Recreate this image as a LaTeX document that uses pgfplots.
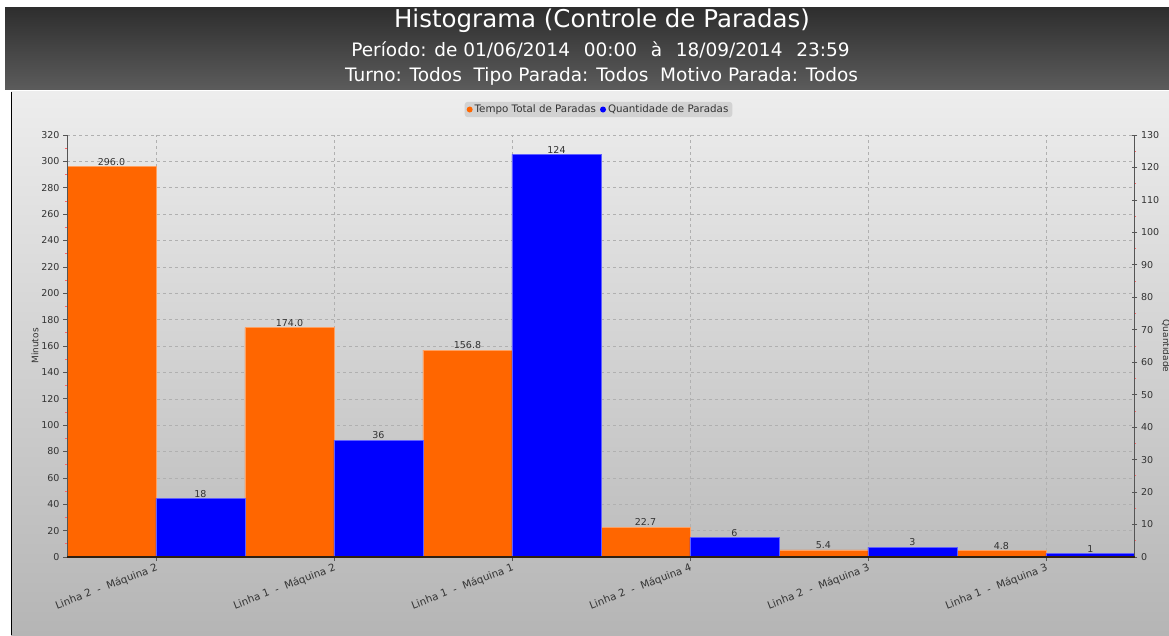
\documentclass[border=0pt]{standalone}
\usepackage{pgfplots}
\pgfplotsset{compat=1.18}
\usepackage{fontspec}
\setmainfont{DejaVu Sans}
\definecolor{barorange}{HTML}{FF6600}
\definecolor{barblue}{HTML}{0000FF}
\definecolor{tickgray}{HTML}{333333}
\definecolor{axisgray}{HTML}{555555}
\definecolor{gridgray}{HTML}{B0B0B0}
\definecolor{legendgray}{HTML}{D2D2D2}
\definecolor{orangeedge}{HTML}{FFA060}
\definecolor{blueedge}{HTML}{6060FF}
\pgfplotsset{sqlegend/.style={legend image code/.code={\fill[##1,draw=none] (0pt,-3pt) rectangle (6pt,3pt);}}}

\pgfplotstableread{
x y
0 296.0
1 174.0
2 156.8
3 22.7
4 5.4
5 4.8
}\tempo
\pgfplotstableread{
x y
0 18
1 36
2 124
3 6
4 3
5 1
}\quant

\begin{document}
\begin{tikzpicture}[x=1pt,y=1pt]
\fill[white] (0,0) rectangle (1169,635);
\shade[top color=black!82, bottom color=black!64] (5,627) rectangle (1169,545);
\shade[top color=black!7, bottom color=black!29] (11,543) rectangle (1169,0);
\draw[black, line width=1pt] (11.5,543) -- (11.5,0);
\node[text=white, anchor=base, font=\fontsize{24.5}{28}\selectfont] at (602,607) {Histograma (Controle de Paradas)};
\node[text=white, anchor=base, font=\fontsize{18.5}{21}\selectfont] at (600.5,578) {Período: de 01/06/2014\ \ \hspace{2pt}00:00\ \ \hspace{2pt}à\ \ \hspace{2pt}18/09/2014\ \ \hspace{2pt}23:59};
\node[text=white, anchor=base, font=\fontsize{18.5}{21}\selectfont] at (601.5,553.5) {Turno: Todos\ \ Tipo Parada: Todos\ \ Motivo Parada: Todos};

\begin{axis}[
  at={(67pt,78pt)}, anchor=south west, scale only axis,
  width=1068pt, height=422pt,
  xmin=-0.5, xmax=5.5, ymin=0, ymax=320,
  axis y line*=left, axis x line*=bottom,
  axis line style={-, axisgray, line width=1pt},
  xtick={0,...,5},
  xticklabels={Linha 2\ \ -\ \ Máquina 2, Linha 1\ \ -\ \ Máquina 2, Linha 1\ \ -\ \ Máquina 1, Linha 2\ \ -\ \ Máquina 4, Linha 2\ \ -\ \ Máquina 3, Linha 1\ \ -\ \ Máquina 3},
  x tick label style={rotate=21, anchor=north east, font=\fontsize{10.3}{12}\selectfont, text=tickgray, inner sep=1pt},
  ytick={0,20,...,320},
  minor y tick num=1,
  tick align=outside,
  major tick length=4pt, minor tick length=2pt,
  major tick style={axisgray, line width=0.7pt},
  minor tick style={red!60, line width=0.7pt},
  y tick label style={font=\fontsize{9.5}{11}\selectfont, text=tickgray},
  /pgf/number format/assume math mode=true,
  grid=major, major grid style={dashed, gridgray, line width=0.5pt},
  ylabel={Minutos},
  ylabel style={font=\fontsize{9}{10}\selectfont, text=tickgray},
  ylabel shift=-4pt,
  legend style={at={(0.4977,1.0604)}, anchor=center, draw=none, fill=legendgray,
    rounded corners=3pt, font=\fontsize{10.3}{12}\selectfont, text=black!80,
    inner xsep=2pt, inner ysep=1pt,
    /tikz/every even column/.append style={column sep=2pt}},
  legend columns=2,
  ybar, bar width=0.5, bar shift=-0.25,
  nodes near coords={\pgfmathprintnumber[fixed,fixed zerofill,precision=1,assume math mode=true]{\pgfplotspointmeta}},
  nodes near coords style={font=\fontsize{9.5}{11}\selectfont, text=tickgray, inner sep=1pt},
]
\addplot[fill=barorange, draw=orangeedge, line width=0.7pt, sqlegend] table[x=x,y=y] {\tempo};
\addlegendentry{Tempo Total de Paradas}
\addlegendimage{fill=barblue, sqlegend}
\addlegendentry{Quantidade de Paradas}
\end{axis}

\begin{axis}[
  at={(67pt,78pt)}, anchor=south west, scale only axis,
  width=1068pt, height=422pt,
  xmin=-0.5, xmax=5.5, ymin=0, ymax=130,
  axis y line*=right, axis x line=none,
  axis line style={-, axisgray, line width=1pt},
  xtick=\empty,
  ytick={0,10,...,130},
  minor y tick num=1,
  tick align=center,
  major tick length=5pt, minor tick length=2.5pt,
  major tick style={axisgray, line width=0.7pt},
  minor tick style={red!60, line width=0.7pt},
  y tick label style={font=\fontsize{9.5}{11}\selectfont, text=tickgray},
  /pgf/number format/assume math mode=true,
  ylabel={Quantidade},
  ylabel style={font=\fontsize{9}{10}\selectfont, text=tickgray, rotate=180},
  ylabel shift=-4pt,
  ybar, bar width=0.5, bar shift=0.25,
  nodes near coords={\pgfmathprintnumber[fixed,precision=0,assume math mode=true]{\pgfplotspointmeta}},
  nodes near coords style={font=\fontsize{9.5}{11}\selectfont, text=tickgray, inner sep=1pt},
]
\addplot[fill=barblue, draw=blueedge, line width=0.7pt] table[x=x,y=y] {\quant};
\draw[axisgray, line width=1.2pt] (rel axis cs:0,0) -- (rel axis cs:0,1);
\draw[axisgray, line width=1.2pt] (rel axis cs:1,0) -- (rel axis cs:1,1);
\draw[black!75!brown, line width=1.6pt] (rel axis cs:0,0) -- (rel axis cs:1,0);
\end{axis}
\pgfresetboundingbox
\useasboundingbox (0,0) rectangle (1169,635);
\end{tikzpicture}
\end{document}
